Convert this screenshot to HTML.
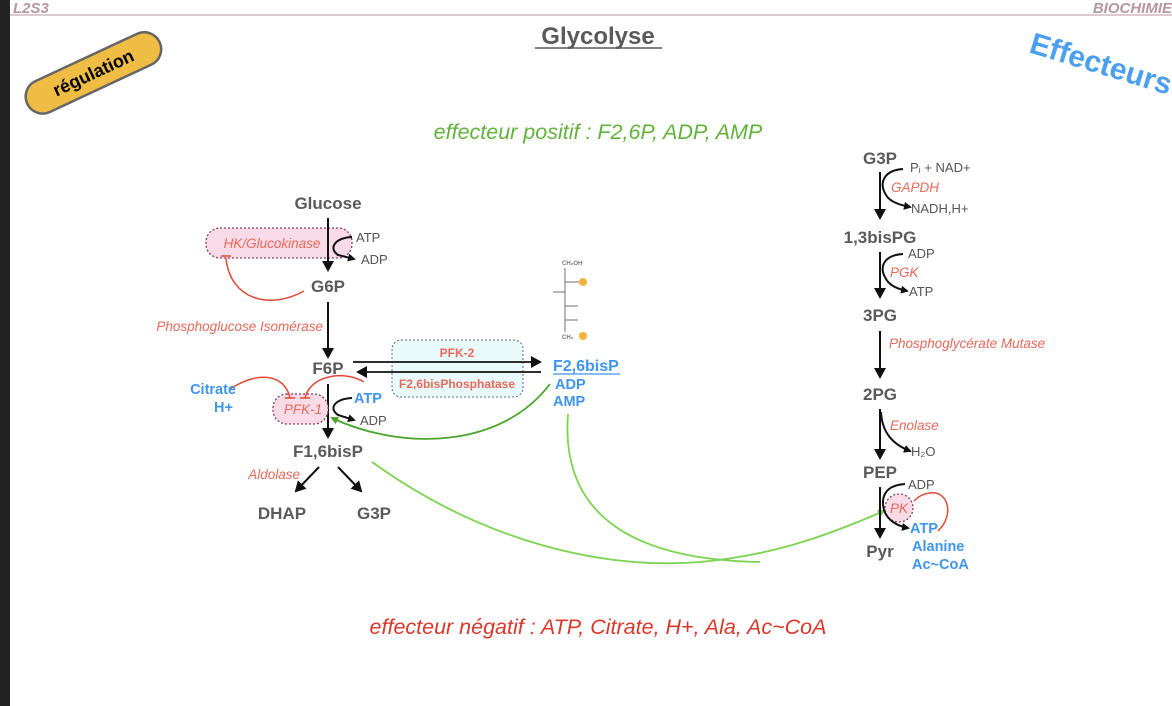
<!DOCTYPE html>
<html><head><meta charset="utf-8"><style>
html,body{margin:0;padding:0;background:#fff;}
svg{display:block;font-family:"Liberation Sans",Arial,sans-serif;}
.m{font-weight:bold;fill:#5a5a5a;font-size:17px;text-anchor:middle}
.s{fill:#555;font-size:13px}
.e{fill:#e8685a;font-style:italic;font-size:13.5px}
.b{fill:#3d95ee;font-weight:bold;font-size:14.5px}
</style></head><body>
<svg width="1172" height="706" viewBox="0 0 1172 706">
<defs>
<marker id="ah" markerWidth="8" markerHeight="8" refX="6" refY="4" orient="auto" markerUnits="userSpaceOnUse"><path d="M0,0 L8,4 L0,8 z" fill="#111"/></marker>
<marker id="ahb" markerWidth="12" markerHeight="12" refX="9" refY="6" orient="auto" markerUnits="userSpaceOnUse"><path d="M0,0 L11,6 L0,12 z" fill="#111"/></marker>
<marker id="ag" markerWidth="8" markerHeight="8" refX="6" refY="4" orient="auto" markerUnits="userSpaceOnUse"><path d="M0,0 L8,4 L0,8 z" fill="#4aa52e"/></marker>
<marker id="agl" markerWidth="8" markerHeight="8" refX="6" refY="4" orient="auto" markerUnits="userSpaceOnUse"><path d="M0,0 L8,4 L0,8 z" fill="#7dd352"/></marker>
</defs>
<rect x="0" y="0" width="10" height="706" fill="#222"/>
<line x1="10" y1="15" x2="1172" y2="15" stroke="#b8959f" stroke-width="1"/>
<text x="13" y="13" font-style="italic" font-weight="bold" font-size="15" fill="#b8959f">L2S3</text>
<text x="1172" y="13" font-style="italic" font-weight="bold" font-size="15" fill="#b8959f" text-anchor="end">BIOCHIMIE</text>
<text x="598" y="44" text-anchor="middle" font-weight="bold" font-size="24" fill="#5a5a5a">Glycolyse</text>
<line x1="535" y1="48" x2="662" y2="48" stroke="#5a5a5a" stroke-width="1.5"/>
<g transform="rotate(-25 93 72)">
<rect x="20" y="56" width="146" height="34" rx="17" fill="#efbd43" stroke="#666" stroke-width="2.5"/>
<text x="93" y="79" text-anchor="middle" font-weight="bold" font-size="18" fill="#000">régulation</text>
</g>
<text transform="translate(1028 52) rotate(17)" font-weight="bold" font-size="30" fill="#4a9ff0">Effecteurs</text>
<text x="598" y="139" text-anchor="middle" font-style="italic" font-size="21.5" fill="#5fb33a">effecteur positif : F2,6P, ADP, AMP</text>
<text x="598" y="634" text-anchor="middle" font-style="italic" font-size="21.5" fill="#d9372a">effecteur négatif : ATP, Citrate, H+, Ala, Ac~CoA</text>

<!-- left pathway -->
<text class="m" x="328" y="209">Glucose</text>
<rect x="206" y="228" width="146" height="30" rx="14" fill="#f8dbe6" stroke="#8a3960" stroke-width="1.3" stroke-dasharray="2,2"/>
<text class="e" x="272" y="248" text-anchor="middle" font-size="15">HK/Glucokinase</text>
<line x1="328" y1="218" x2="328" y2="270" stroke="#111" stroke-width="2" marker-end="url(#ahb)"/>
<path d="M352,237 C335,238 328,248 338,255 L354,259" fill="none" stroke="#111" stroke-width="2" marker-end="url(#ah)"/>
<text class="s" x="356" y="242">ATP</text>
<text class="s" x="361" y="264">ADP</text>
<path d="M304,291 C270,310 230,300 226,258" fill="none" stroke="#e04a35" stroke-width="1.5"/>
<line x1="221" y1="256" x2="231" y2="256" stroke="#e04a35" stroke-width="1.5"/>
<text class="m" x="328" y="292">G6P</text>
<line x1="328" y1="302" x2="328" y2="357" stroke="#111" stroke-width="2" marker-end="url(#ahb)"/>
<text class="e" x="323" y="331" text-anchor="end" font-size="14">Phosphoglucose Isomérase</text>
<text class="m" x="328" y="374">F6P</text>
<line x1="328" y1="384" x2="328" y2="437" stroke="#111" stroke-width="2" marker-end="url(#ahb)"/>
<rect x="273" y="394" width="55" height="30" rx="14" fill="#f8dbe6" stroke="#8a3960" stroke-width="1.3" stroke-dasharray="2,2"/>
<text class="e" x="303" y="414" text-anchor="middle" font-size="14">PFK-1</text>
<path d="M352,398 C335,399 328,408 338,415 L354,420" fill="none" stroke="#111" stroke-width="2" marker-end="url(#ah)"/>
<text class="b" x="354" y="403">ATP</text>
<text class="s" x="360" y="425">ADP</text>
<path d="M230,389 C260,370 285,375 290,398" fill="none" stroke="#e04a35" stroke-width="1.5"/>
<line x1="285" y1="398" x2="295" y2="398" stroke="#e04a35" stroke-width="1.5"/>
<path d="M364,382 C345,370 310,375 305,398" fill="none" stroke="#e04a35" stroke-width="1.5"/>
<line x1="300" y1="398" x2="310" y2="398" stroke="#e04a35" stroke-width="1.5"/>
<text class="b" x="236" y="394" text-anchor="end">Citrate</text>
<text class="b" x="233" y="412" text-anchor="end">H+</text>
<text class="m" x="328" y="457">F1,6bisP</text>
<text class="e" x="300" y="479" text-anchor="end">Aldolase</text>
<line x1="319" y1="467" x2="296" y2="491" stroke="#111" stroke-width="2" marker-end="url(#ahb)"/>
<line x1="338" y1="467" x2="361" y2="491" stroke="#111" stroke-width="2" marker-end="url(#ahb)"/>
<text class="m" x="282" y="519">DHAP</text>
<text class="m" x="374" y="519">G3P</text>

<!-- PFK-2 box -->
<rect x="392" y="340" width="131" height="57" rx="9" fill="#e8fbfa" stroke="#666" stroke-width="1" stroke-dasharray="2,2"/>
<line x1="353" y1="362" x2="540" y2="362" stroke="#111" stroke-width="1.8" marker-end="url(#ahb)"/>
<line x1="541" y1="372" x2="358" y2="372" stroke="#111" stroke-width="1.8" marker-end="url(#ahb)"/>
<text x="457" y="357" text-anchor="middle" font-weight="bold" font-size="12" fill="#e8685a">PFK-2</text>
<text x="457" y="388" text-anchor="middle" font-weight="bold" font-size="12" fill="#e8685a">F2,6bisPhosphatase</text>
<text x="553" y="371" font-weight="bold" font-size="16" fill="#3d95ee">F2,6bisP</text>
<line x1="553" y1="374" x2="620" y2="374" stroke="#3d95ee" stroke-width="1.2"/>
<text class="b" x="555" y="389">ADP</text>
<text class="b" x="553" y="406">AMP</text>
<!-- molecule -->
<g stroke="#888" stroke-width="1.2">
<line x1="565" y1="268" x2="565" y2="332"/><line x1="565" y1="282" x2="580" y2="282"/><line x1="553" y1="292" x2="565" y2="292"/>
<line x1="565" y1="306" x2="578" y2="306"/><line x1="565" y1="320" x2="578" y2="320"/>
</g>
<text x="562" y="265" font-size="6" font-weight="bold" fill="#777">CH₂OH</text>
<circle cx="583" cy="282" r="4" fill="#f2b33c"/>
<text x="562" y="339" font-size="6" font-weight="bold" fill="#777">CH₂</text>
<circle cx="583" cy="336" r="4" fill="#f2b33c"/>

<!-- green curves -->
<path d="M550,384 C500,450 400,450 332,418" fill="none" stroke="#4aa52e" stroke-width="1.8" marker-end="url(#ag)"/>
<path d="M372,462 C480,540 600,570 700,562 C780,555 840,530 884,511" fill="none" stroke="#7dd352" stroke-width="1.8" marker-end="url(#agl)"/>
<path d="M568,414 C560,520 640,560 760,562" fill="none" stroke="#7dd352" stroke-width="1.8"/>

<!-- right pathway -->
<text class="m" x="880" y="164">G3P</text>
<line x1="880" y1="172" x2="880" y2="218" stroke="#111" stroke-width="2" marker-end="url(#ahb)"/>
<path d="M903,169 C885,170 878,182 886,195 C890,202 900,205 910,207" fill="none" stroke="#111" stroke-width="2" marker-end="url(#ah)"/>
<text class="s" x="910" y="172">Pᵢ + NAD+</text>
<text class="e" x="891" y="192">GAPDH</text>
<text class="s" x="911" y="213">NADH,H+</text>
<text class="m" x="880" y="243">1,3bisPG</text>
<line x1="880" y1="252" x2="880" y2="297" stroke="#111" stroke-width="2" marker-end="url(#ahb)"/>
<path d="M903,254 C885,255 878,266 886,279 C890,286 898,289 907,291" fill="none" stroke="#111" stroke-width="2" marker-end="url(#ah)"/>
<text class="s" x="908" y="258">ADP</text>
<text class="e" x="890" y="277">PGK</text>
<text class="s" x="909" y="296">ATP</text>
<text class="m" x="880" y="321">3PG</text>
<line x1="880" y1="331" x2="880" y2="377" stroke="#111" stroke-width="2" marker-end="url(#ahb)"/>
<text class="e" x="889" y="348">Phosphoglycérate Mutase</text>
<text class="m" x="880" y="400">2PG</text>
<line x1="880" y1="409" x2="880" y2="458" stroke="#111" stroke-width="2" marker-end="url(#ahb)"/>
<text class="e" x="890" y="430">Enolase</text>
<path d="M881,412 C882,432 892,444 910,451" fill="none" stroke="#111" stroke-width="2" marker-end="url(#ah)"/>
<text class="s" x="911" y="456">H₂O</text>
<text class="m" x="880" y="478">PEP</text>
<line x1="880" y1="487" x2="880" y2="537" stroke="#111" stroke-width="2" marker-end="url(#ahb)"/>
<circle cx="899" cy="508" r="14" fill="#f8dbe6" stroke="#8a3960" stroke-width="1.3" stroke-dasharray="2,2"/>
<text class="e" x="899" y="513" text-anchor="middle">PK</text>
<path d="M905,484 C888,485 880,494 884,510 C887,520 897,526 908,528" fill="none" stroke="#111" stroke-width="2" marker-end="url(#ah)"/>
<text class="s" x="908" y="489">ADP</text>
<path d="M938,531 C955,515 948,490 930,493 C922,494 918,497 914,501" fill="none" stroke="#e04a35" stroke-width="1.5"/>
<text class="b" x="910" y="533">ATP</text>
<text class="b" x="912" y="551">Alanine</text>
<text class="b" x="912" y="569">Ac~CoA</text>
<text class="m" x="880" y="557">Pyr</text>
</svg>
</body></html>
